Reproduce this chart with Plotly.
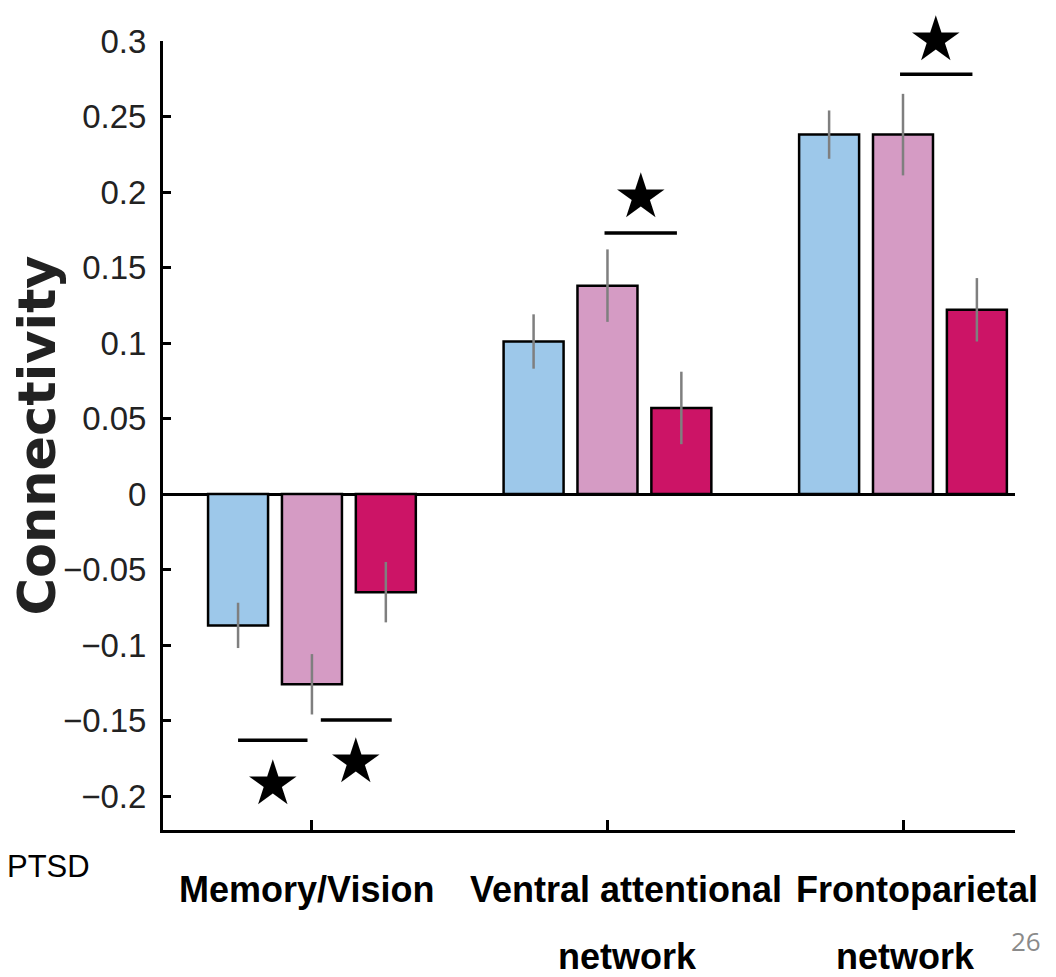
import plotly.graph_objects as go

# network categories and group series
categories = ["Memory/Vision", "Ventral attentional<br>network", "Frontoparietal<br>network"]
groups = ["Group A", "Group B", "Group C"]
means = {
    "Group A": [-0.087, 0.101, 0.238],
    "Group B": [-0.126, 0.138, 0.238],
    "Group C": [-0.065, 0.057, 0.122],
}
errors = {
    "Group A": [0.015, 0.018, 0.016],
    "Group B": [0.020, 0.024, 0.027],
    "Group C": [0.020, 0.024, 0.021],
}
colors = {"Group A": "#9DC8EA", "Group B": "#D59BC4", "Group C": "#CC1466"}

y_ticks = [0.3, 0.25, 0.2, 0.15, 0.1, 0.05, 0, -0.05, -0.1, -0.15, -0.2]
y_ticktext = ["0.3", "0.25", "0.2", "0.15", "0.1", "0.05", "0",
              "\u22120.05", "\u22120.1", "\u22120.15", "\u22120.2"]

# significance bars: category index, start/end (offset from category centre), bar level, star level
sig_cat = [0, 0, 1, 2]
sig_x0 = [-0.25, 0.03, -0.01, -0.01]
sig_x1 = [-0.015, 0.27, 0.235, 0.235]
sig_line_y = [-0.163, -0.1497, 0.1728, 0.278]
sig_star_y = [-0.1907, -0.176, 0.198, 0.302]

Y_MIN, Y_MAX = -0.2225, 0.3
W, H = 1056, 977
PAGE = 8  # page body offset in the screenshot
ML, MR, MT, MB = 163 - PAGE, 41 + PAGE, 41 - PAGE, 147 + PAGE
PW, PH = W - ML - MR, H - MT - MB


def px_to_paper(x, y):
    # screenshot pixels -> paper coordinates
    return (x - PAGE - ML) / PW, (H - MB - (y - PAGE)) / PH


fig = go.Figure()

for g in groups:
    fig.add_trace(go.Bar(
        x=list(range(len(categories))),
        y=means[g],
        name=g,
        marker=dict(color=colors[g], line=dict(color="black", width=2.5)),
        error_y=dict(type="data", array=errors[g], color="#7f7f7f", thickness=2.5, width=0),
    ))

for c, a, b, ly, sy in zip(sig_cat, sig_x0, sig_x1, sig_line_y, sig_star_y):
    fig.add_shape(type="line", x0=c + a, x1=c + b, y0=ly, y1=ly,
                  line=dict(color="black", width=3.5))
    # star placed in paper units so the one above the top of the axis still shows
    fig.add_annotation(x=c + (a + b) / 2, y=(sy - Y_MIN) / (Y_MAX - Y_MIN), yref="paper",
                       text="\u2605", showarrow=False, height=46, valign="middle",
                       font=dict(size=62, color="black", family="DejaVu Sans"),
                       yanchor="middle")

# category labels below the axis, one annotation per text line
line_rows = [889, 956]          # screenshot y of each label line
line_shift = [[-5], [19, 20], [14, 2]]
for i, lab in enumerate(categories):
    for j, part in enumerate(lab.split("<br>")):
        _, py = px_to_paper(0, line_rows[j])
        fig.add_annotation(x=i, y=py, yref="paper", text=f"<b>{part}</b>", showarrow=False,
                           xshift=line_shift[i][j], yanchor="middle", align="center",
                           font=dict(size=36, color="black",
                                     family="Liberation Sans Narrow, Liberation Sans, Arial"))

# slide leftovers
px, py = px_to_paper(8, 866)
fig.add_annotation(x=px, y=py, xref="paper", yref="paper", text="PTSD", showarrow=False,
                   xanchor="left", yanchor="middle", xshift=-3,
                   font=dict(size=31, color="black", family="Liberation Sans, Arial"))
px, py = px_to_paper(1026, 941)
fig.add_annotation(x=px, y=py, xref="paper", yref="paper", text="26", showarrow=False,
                   xanchor="center", yanchor="middle",
                   font=dict(size=26, color="#8a8a8a", family="Open Sans, Liberation Sans"))

fig.update_layout(
    width=W, height=H,
    margin=dict(l=ML, r=MR, t=MT, b=MB),
    paper_bgcolor="white", plot_bgcolor="white",
    barmode="group", bargap=0.25, bargroupgap=0.188,
    showlegend=False,
)

fig.update_xaxes(
    range=[-0.504, 2.379], showticklabels=False, showgrid=False,
    showline=True, linecolor="black", linewidth=3,
    ticks="inside", ticklen=10, tickwidth=2.5, tickcolor="black",
    tickvals=list(range(len(categories))), zeroline=False,
)
fig.update_yaxes(
    range=[Y_MIN, Y_MAX], showgrid=False, automargin=False,
    showline=True, linecolor="black", linewidth=3,
    ticks="inside", ticklen=8, tickwidth=3, tickcolor="black",
    tickvals=y_ticks, ticktext=y_ticktext, ticklabelstandoff=7,
    tickfont=dict(size=33, color="#222222", family="Liberation Sans Narrow, Liberation Sans, Arial"),
    zeroline=True, zerolinecolor="black", zerolinewidth=3,
    title=dict(text="<b>Connectivity</b>", standoff=10,
               font=dict(size=51, color="#222222", family="DejaVu Sans")),
)

fig.write_html("out.html")
